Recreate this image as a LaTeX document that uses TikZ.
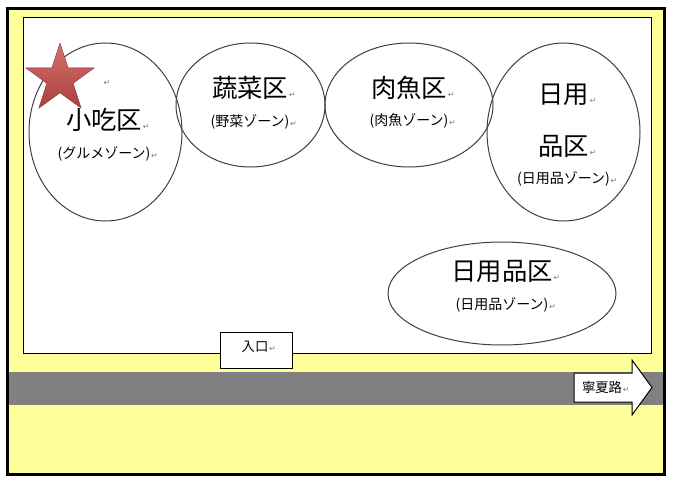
\documentclass[tikz,border=0pt]{standalone}
\usepackage{fontspec}
\setmainfont{Noto Sans CJK JP}
\newfontfamily\dejavu{DejaVu Sans}
\usetikzlibrary{shapes.geometric}
\definecolor{bgyellow}{HTML}{FFFF99}
\definecolor{roadgray}{HTML}{808080}
\definecolor{starlight}{HTML}{D9706D}
\definecolor{stardark}{HTML}{A8403D}
\newcommand\retmark{\rlap{\hspace{0.6pt}{\fontsize{6}{6}\selectfont\dejavu\color{gray}↵}}}
\begin{document}
\begin{tikzpicture}[x=0.75pt,y=-0.75pt,
  zone/.style={draw=black!75, line width=0.75pt, ellipse, inner sep=0pt},
  bigtxt/.style={inner sep=0pt, font=\fontsize{19}{22}\selectfont},
  subtxt/.style={inner sep=0pt, font=\fontsize{10.5}{12}\selectfont},
  smalltxt/.style={inner sep=0pt, font=\fontsize{10}{12}\selectfont}]
\useasboundingbox (0,0) rectangle (674,481);
% outer yellow area
\draw[line width=1.8pt, fill=bgyellow] (7.5,8.5) rectangle (664.5,474.5);
% inner white store area
\draw[line width=0.75pt, fill=white] (23,18) rectangle (651.5,353);
% road
\fill[roadgray] (8.8,372) rectangle (663.2,405);
% entrance
\node[draw, line width=0.75pt, fill=white, minimum width=54pt, minimum height=27pt, inner sep=0pt] (entry) at (256,350) {};
\node[smalltxt] (entrytxt) at (255,347) {入口\retmark};
% zones
\node[zone, minimum width=114.75pt, minimum height=133.5pt] (z1) at (105.5,132) {};
\node[zone, minimum width=111.75pt, minimum height=93pt] (z2) at (250.5,105) {};
\node[zone, minimum width=126pt, minimum height=93pt] (z3) at (409,105) {};
\node[zone, minimum width=114.75pt, minimum height=133.5pt] (z4) at (563.5,132) {};
\node[zone, minimum width=171pt, minimum height=77.25pt] (z5) at (502,293.5) {};
% zone texts
\node[inner sep=0pt] (m1) at (107,83) {\fontsize{6}{6}\selectfont\dejavu\color{gray}↵};
\node[bigtxt] (t1) at (104,120) {小吃区\retmark};
\node[subtxt] (s1) at (104,154) {(グルメゾーン)\retmark};
\node[bigtxt] (t2) at (250,88) {蔬菜区\retmark};
\node[subtxt] (s2) at (250,122) {(野菜ゾーン)\retmark};
\node[bigtxt] (t3) at (409,88) {肉魚区\retmark};
\node[subtxt] (s3) at (409,121) {(肉魚ゾーン)\retmark};
\node[bigtxt] (t4a) at (563.5,95) {日用\retmark};
\node[bigtxt] (t4b) at (563.5,146) {品区\retmark};
\node[subtxt] (s4) at (563.5,179) {(日用品ゾーン)\retmark};
\node[bigtxt] (t5) at (502,271) {日用品区\retmark};
\node[subtxt] (s5) at (502,305) {(日用品ゾーン)\retmark};
% star
\shade[top color=starlight, bottom color=stardark, draw=stardark!80!black, line width=0.3pt]
  (60,79) +(-90:36) -- +(-54:13.8) -- +(-18:36) -- +(18:13.8) -- +(54:36)
  -- +(90:13.8) -- +(126:36) -- +(162:13.8) -- +(198:36) -- +(234:13.8) -- cycle;
% road arrow
\draw[line width=0.75pt, fill=white, line join=miter]
  (574,373) -- (632,373) -- (632,360) -- (652,387.5) -- (632,415) -- (632,402) -- (574,402) -- cycle;
\node[smalltxt] (roadtxt) at (602,387.5) {寧夏路\retmark};
\end{tikzpicture}
\end{document}
